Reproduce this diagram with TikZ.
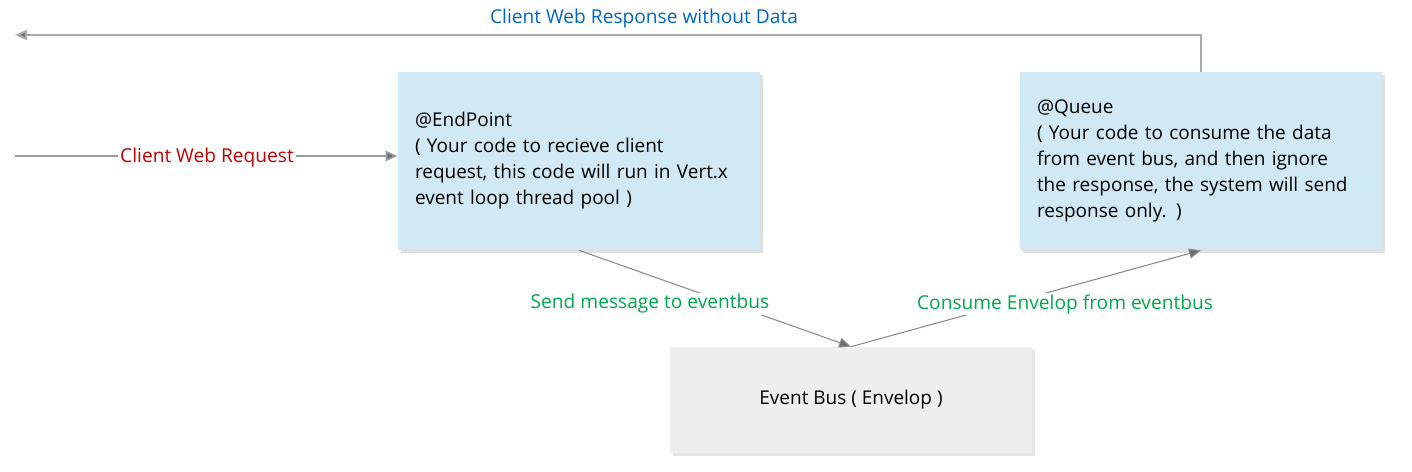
\documentclass[tikz,border=0pt]{standalone}
\usepackage{fontspec}
\setmainfont{Open Sans}
\usetikzlibrary{arrows.meta,shadows}
\definecolor{boxblue}{HTML}{D0E9F5}
\definecolor{boxgray}{HTML}{EEEEEE}
\definecolor{lblred}{HTML}{C00000}
\definecolor{lblblue}{HTML}{0066CC}
\definecolor{lblgreen}{HTML}{00A84F}
\definecolor{linegray}{HTML}{8A8A8A}
\definecolor{headgray}{HTML}{6E6E6E}
\begin{document}
\begin{tikzpicture}[x=0.02cm,y=-0.02cm,
  boxtext/.style={font=\fontsize{10.8}{14.8}\selectfont},
  infobox/.style={fill=boxblue, draw=none, minimum width=7.24cm, minimum height=3.56cm,
    inner xsep=0.34cm, text width=6.56cm, align=left, boxtext,
    drop shadow={shadow xshift=0.06cm, shadow yshift=-0.06cm, fill=black!12, opacity=1}},
  busbox/.style={fill=boxgray, draw=none, minimum width=7.24cm, minimum height=2.12cm, boxtext,
    drop shadow={shadow xshift=0.06cm, shadow yshift=-0.06cm, fill=black!10, opacity=1}},
  conn/.style={draw=linegray, line width=0.6pt, -{Triangle[length=0.24cm,width=0.2cm,fill=headgray]}},
  lbl/.style={font=\fontsize{10.9}{12}\selectfont, fill=white, inner sep=1pt}
]
\useasboundingbox (0,0) rectangle (1412,472);

\node[infobox] (endpoint) at (579,161) {@EndPoint\\( Your code to recieve client\\request, this code will run in Vert.x\\event loop thread pool )};
\node[infobox] (queue) at (1201,161) {@Queue\\( Your code to consume the data\\from event bus, and then ignore\\the response, the system will send\\response only. )};
\node[busbox] (bus) at (851,400) {Event Bus ( Envelop )};

\coordinate (reqstart) at (15,156);
\coordinate (respend) at (15,35);

% request
\draw[conn, draw=black!40, line width=0.9pt] (reqstart) -- (endpoint.west |- reqstart);
\node[lbl, text=lblred] (reqlbl) at (207,157.5) {Client Web Request};

% response
\draw[conn, draw=black!33, line width=1.2pt] (queue.north) |- (respend);
\node[lbl, text=lblblue] (resplbl) at (644,19) {Client Web Response without Data};

% send / consume
\draw[conn] (endpoint.south) -- (bus.north);
\node[lbl, text=lblgreen] (sendlbl) at (650,304) {Send message to eventbus};
\draw[conn] (bus.north) -- (queue.south);
\node[lbl, text=lblgreen] (conslbl) at (1065,304) {Consume Envelop from eventbus};
\end{tikzpicture}
\end{document}
